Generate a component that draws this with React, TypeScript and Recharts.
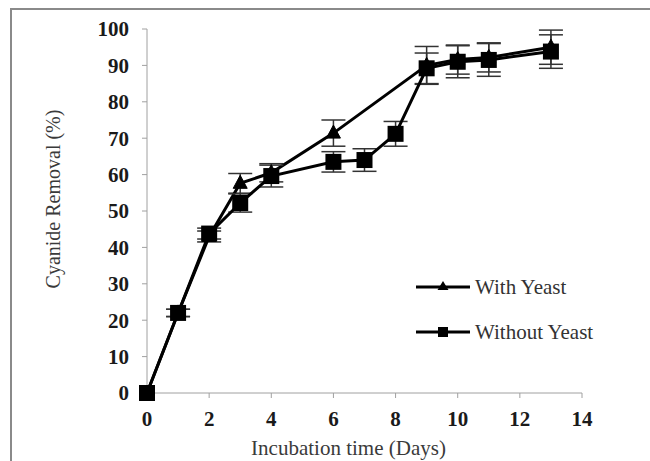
import React from "react";
import { LineChart, Line, XAxis, YAxis, ErrorBar, Legend } from "recharts";

const withYeastDays = [0, 1, 2, 3, 4, 6, 9, 10, 11, 13];
const withYeastValues = [0, 22, 43, 57.6, 60.5, 71.4, 90, 91.6, 92.2, 95];
const withYeastErrors = [0, 1, 1.5, 2.7, 2.5, 3.6, 5.2, 4, 4, 4.7];

const withoutYeastDays = [0, 1, 2, 3, 4, 6, 7, 8, 9, 10, 11, 13];
const withoutYeastValues = [0, 22, 43.8, 52.2, 59.6, 63.5, 64, 71.2, 89.2, 91, 91.5, 93.8];
const withoutYeastErrors = [0, 1, 1.5, 2.5, 3, 2.8, 3.1, 3.4, 4.2, 4.4, 4.5, 4.6];

const xTicks = [0, 2, 4, 6, 8, 10, 12, 14];
const yTicks = [0, 10, 20, 30, 40, 50, 60, 70, 80, 90, 100];

const seriesNames = ["With Yeast", "Without Yeast"];

const withYeastData = withYeastDays.map((d, i) => ({
  day: d,
  value: withYeastValues[i],
  err: withYeastErrors[i],
}));
const withoutYeastData = withoutYeastDays.map((d, i) => ({
  day: d,
  value: withoutYeastValues[i],
  err: withoutYeastErrors[i],
}));

const FONT = "'Liberation Serif', 'Times New Roman', serif";

const TriangleDot = (p: any) => {
  const { cx, cy, index } = p;
  if (cx == null || cy == null) return <g key={`t-${index}`} />;
  return (
    <polygon
      key={`t-${index}`}
      points={`${cx},${cy - 8} ${cx + 7},${cy + 5} ${cx - 7},${cy + 5}`}
      fill="#000"
      stroke="#000"
      strokeWidth={1}
    />
  );
};

const SquareDot = (p: any) => {
  const { cx, cy, index } = p;
  if (cx == null || cy == null) return <g key={`s-${index}`} />;
  return <rect key={`s-${index}`} x={cx - 8} y={cy - 8} width={16} height={16} fill="#000" />;
};

const LegendContent = () => (
  <div style={{ fontFamily: FONT, fontSize: 21, color: "#333" }}>
    {seriesNames.map((name, i) => (
      <div
        key={name}
        style={{ display: "flex", alignItems: "center", height: 24, marginBottom: i === 0 ? 21 : 0 }}
      >
        <svg width={54} height={20} style={{ display: "block" }}>
          <line x1={0} y1={10} x2={54} y2={10} stroke="#000" strokeWidth={3} />
          {i === 0 ? (
            <polygon points="27,4 32.5,13 21.5,13" fill="#000" />
          ) : (
            <rect x={22} y={5} width={10} height={10} fill="#000" />
          )}
        </svg>
        <span style={{ marginLeft: 5, whiteSpace: "nowrap" }}>{name}</span>
      </div>
    ))}
  </div>
);

const YLabel = (props: any) => {
  const vb = props.viewBox || {};
  const x = (vb.x ?? 0) + 53;
  const y = (vb.y ?? 0) + (vb.height ?? 0) / 2 - 12;
  return (
    <text
      x={x}
      y={y}
      transform={`rotate(-90, ${x}, ${y})`}
      textAnchor="middle"
      dominantBaseline="central"
      fontFamily={FONT}
      fontSize={20}
      fill="#3a3a3a"
    >
      Cyanide Removal (%)
    </text>
  );
};

const XLabel = (props: any) => {
  const vb = props.viewBox || {};
  const x = (vb.x ?? 0) + (vb.width ?? 0) / 2 - 16;
  const y = (vb.y ?? 0) + 55;
  return (
    <text
      x={x}
      y={y}
      textAnchor="middle"
      dominantBaseline="central"
      fontFamily={FONT}
      fontSize={21}
      fill="#3a3a3a"
    >
      Incubation time (Days)
    </text>
  );
};

export default function App() {
  return (
    <div style={{ position: "absolute", left: 0, top: 0, width: 650, height: 461, background: "#fff" }}>
      <div
        style={{
          position: "absolute",
          left: 10,
          top: 8,
          width: 640,
          height: 453,
          borderLeft: "2px solid #8a8a8a",
          borderTop: "2px solid #8a8a8a",
          boxSizing: "border-box",
        }}
      />
      <LineChart
        width={650}
        height={461}
        margin={{ top: 29, right: 68, bottom: 0, left: 0 }}
        style={{ position: "absolute", left: 0, top: 0 }}
      >
        <XAxis
          type="number"
          dataKey="day"
          domain={[0, 14]}
          ticks={xTicks}
          interval={0}
          height={68}
          stroke="#a0a0a0"
          tickSize={5}
          tickMargin={13}
          tick={{ fontFamily: FONT, fontSize: 21, fontWeight: "bold", fill: "#1a1a1a" }}
          label={<XLabel />}
          allowDuplicatedCategory={false}
        />
        <YAxis
          type="number"
          domain={[0, 100]}
          ticks={yTicks}
          interval={0}
          width={147}
          stroke="#a0a0a0"
          tickSize={5}
          tickMargin={13}
          tick={{ fontFamily: FONT, fontSize: 21, fontWeight: "bold", fill: "#1a1a1a" }}
          label={<YLabel />}
        />
        <Line
          data={withYeastData}
          dataKey="value"
          name={seriesNames[0]}
          stroke="#000"
          strokeWidth={3}
          dot={TriangleDot}
          activeDot={false}
          isAnimationActive={false}
        >
          <ErrorBar dataKey="err" width={12} stroke="#333" strokeWidth={1.5} isAnimationActive={false} />
        </Line>
        <Line
          data={withoutYeastData}
          dataKey="value"
          name={seriesNames[1]}
          stroke="#000"
          strokeWidth={3}
          dot={SquareDot}
          activeDot={false}
          isAnimationActive={false}
        >
          <ErrorBar dataKey="err" width={12} stroke="#333" strokeWidth={1.5} isAnimationActive={false} />
        </Line>
        <Legend
          layout="vertical"
          align="center"
          verticalAlign="middle"
          content={<LegendContent />}
          wrapperStyle={{ position: "absolute", left: 416, top: 275, width: "auto", bottom: "auto", right: "auto" }}
        />
      </LineChart>
    </div>
  );
}
